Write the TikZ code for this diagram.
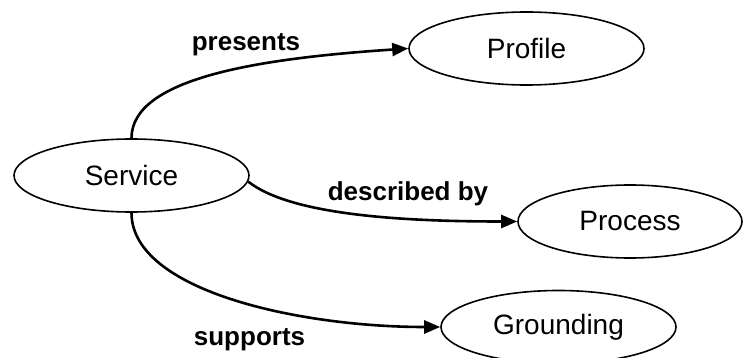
\documentclass[tikz,border=0pt]{standalone}
\usepackage{fontspec}
\setmainfont{Liberation Sans}
\usetikzlibrary{shapes.geometric,arrows.meta}
\begin{document}
\begin{tikzpicture}[x=1pt,y=-1pt,
  concept/.style={ellipse,draw=black,line width=1.6pt,inner sep=0pt,
    minimum width=235pt,minimum height=73pt,
    font=\fontsize{28}{34}\selectfont},
  rel/.style={draw=black,line width=2.6pt,
    -{Triangle[length=16pt,width=13pt]}},
  rellabel/.style={anchor=base,inner sep=0pt,
    font=\fontsize{26}{31}\selectfont\bfseries}]
\useasboundingbox (0,0) rectangle (743,358);
\node[concept] (svc) at (131.5,175.5) {Service};
\node[concept] (prof) at (526.5,48.5) {Profile};
\node[concept,minimum width=224pt] (proc) at (630,221.5) {Process};
\node[concept] (grnd) at (558.5,327) {Grounding};
\draw[rel] (svc.north) .. controls +(0,-60) and +(-150,10) .. (prof.west);
\draw[rel] (svc.-3) .. controls +(42,33) and +(-118,0) .. (proc.west);
\draw[rel] (svc.south) .. controls +(0,78) and +(-141,0) .. (grnd.west);
\node[rellabel] (lpres) at (246,51) {presents};
\node[rellabel] (ldesc) at (408,200) {described by};
\node[rellabel] (lsupp) at (249.5,345) {supports};
\end{tikzpicture}
\end{document}
